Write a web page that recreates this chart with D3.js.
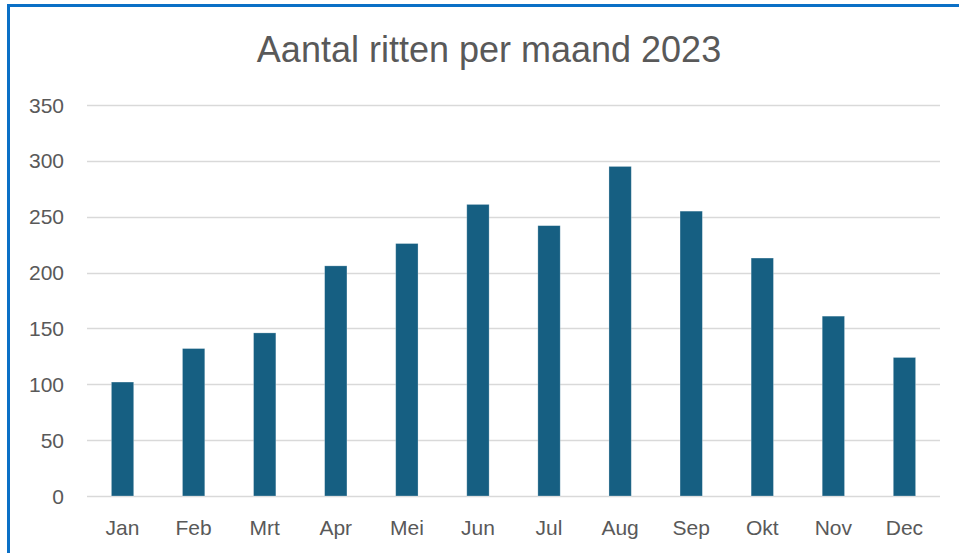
<!DOCTYPE html>
<html>
<head>
<meta charset="utf-8">
<script src="https://cdn.jsdelivr.net/npm/d3@7"></script>
<style>
  body { margin: 0; background: #fff; }
  text { font-family: 'Liberation Sans', Arial, sans-serif; fill: #595959; }
</style>
</head>
<body>
<div id="chart"></div>
<script>
const months = ['Jan', 'Feb', 'Mrt', 'Apr', 'Mei', 'Jun', 'Jul', 'Aug', 'Sep', 'Okt', 'Nov', 'Dec'];
const ritten = [102, 132, 146, 206, 226, 261, 242, 295, 255, 213, 161, 124];
const yTicks = [0, 50, 100, 150, 200, 250, 300, 350];
const title = 'Aantal ritten per maand 2023';

const width = 959;
const height = 553;
const margin = {top: 105, right: 19, bottom: 57, left: 87};
const barColor = '#165f82';
const gridColor = '#d9d9d9';

const svg = d3.select('#chart').append('svg')
  .attr('width', width)
  .attr('height', height);

// frame of the chart object (only top and left edges visible)
svg.append('rect')
  .attr('x', 8.5)
  .attr('y', 5.5)
  .attr('width', width + 20)
  .attr('height', height + 20)
  .attr('fill', 'none')
  .attr('stroke', '#0b70c6')
  .attr('stroke-width', 3);

const x = d3.scaleBand()
  .domain(months)
  .range([margin.left, width - margin.right])
  .paddingInner(0.686)
  .paddingOuter(0.343);

const y = d3.scaleLinear()
  .domain([0, 350])
  .range([height - margin.bottom, margin.top]);

// gridlines
svg.append('g')
  .selectAll('line')
  .data(yTicks)
  .join('line')
    .attr('x1', margin.left)
    .attr('x2', width - margin.right)
    .attr('y1', d => Math.round(y(d)) + 0.5)
    .attr('y2', d => Math.round(y(d)) + 0.5)
    .attr('stroke', gridColor)
    .attr('stroke-width', 1.5);

// y tick labels
svg.append('g')
  .selectAll('text')
  .data(yTicks)
  .join('text')
    .attr('x', 64)
    .attr('y', d => y(d))
    .attr('dy', '0.36em')
    .attr('text-anchor', 'end')
    .attr('font-size', 21)
    .text(d => d);

// bars
svg.append('g')
  .selectAll('rect')
  .data(months)
  .join('rect')
    .attr('x', d => x(d))
    .attr('y', (d, i) => y(ritten[i]))
    .attr('width', x.bandwidth())
    .attr('height', (d, i) => y(0) - y(ritten[i]))
    .attr('fill', barColor)
    .attr('stroke', '#ffffff')
    .attr('stroke-opacity', 0.35)
    .attr('stroke-width', 0.75);

// x labels
svg.append('g')
  .selectAll('text')
  .data(months)
  .join('text')
    .attr('x', d => x(d) + x.bandwidth() / 2)
    .attr('y', 535)
    .attr('text-anchor', 'middle')
    .attr('font-size', 21)
    .text(d => d);

svg.append('text')
  .attr('x', 489)
  .attr('y', 62)
  .attr('text-anchor', 'middle')
  .attr('font-size', 36)
  .text(title);
</script>
</body>
</html>
